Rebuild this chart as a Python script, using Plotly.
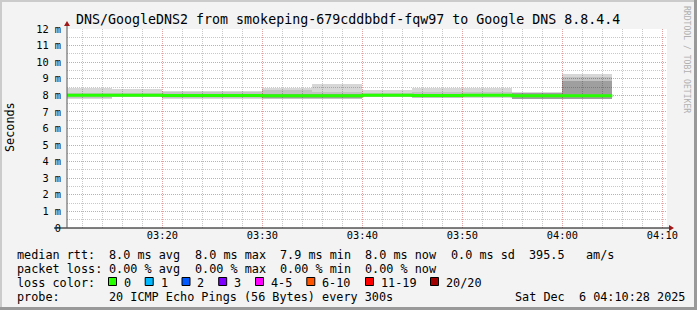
import plotly.graph_objects as go
import pandas as pd

# ---------------- data (ms) ----------------
block_start = ["2025-12-06 03:10", "2025-12-06 03:15", "2025-12-06 03:20", "2025-12-06 03:25",
               "2025-12-06 03:30", "2025-12-06 03:35", "2025-12-06 03:40", "2025-12-06 03:45",
               "2025-12-06 03:50", "2025-12-06 03:55", "2025-12-06 04:00"]
smoke_max = [8.45, 8.41, 8.26, 8.26, 8.43, 8.69, 8.32, 8.46, 8.46, 8.20, 9.29]
smoke_q90 = [8.17, 8.17, 8.18, 8.18, 8.32, 8.22, 8.17, 8.22, 8.22, 8.14, 9.08]
smoke_q75 = [8.06, 8.06, 8.06, 8.06, 8.06, 8.06, 8.06, 8.06, 8.06, 8.13, 8.89]
smoke_q25 = [7.94, 7.94, 7.94, 7.94, 7.82, 7.82, 7.94, 7.94, 7.94, 7.80, 7.80]
smoke_q10 = [7.86, 7.92, 7.84, 7.84, 7.80, 7.80, 7.88, 7.86, 7.88, 7.79, 7.79]
smoke_min = [7.79, 7.91, 7.78, 7.78, 7.78, 7.78, 7.87, 7.84, 7.86, 7.78, 7.78]
median_rtt = [8.00, 8.00, 7.99, 7.99, 7.98, 7.98, 8.00, 7.99, 8.00, 7.98, 7.98]
data_end = "2025-12-06 04:05"
step_ms = 300000

x_range = ["2025-12-06 03:10:28", "2025-12-06 04:10:28"]
y_tickvals = [0, 1, 2, 3, 4, 5, 6, 7, 8, 9, 10, 11, 12]
y_ticktext = ["0", "1 m", "2 m", "3 m", "4 m", "5 m", "6 m", "7 m", "8 m", "9 m", "10 m", "11 m", "12 m"]

title_text = "DNS/GoogleDNS2 from smokeping-679cddbbdf-fqw97 to Google DNS 8.8.4.4"
rtt_items = ["median rtt:", "8.0 ms avg", "8.0 ms max", "7.9 ms min", "8.0 ms now", "0.0 ms sd", "395.5", "am/s"]
loss_items = ["packet loss:", "0.00 % avg", "0.00 % max", "0.00 % min", "0.00 % now"]
loss_labels = ["0", "1", "2", "3", "4-5", "6-10", "11-19", "20/20"]
loss_colors = ["#26ff00", "#00b8ff", "#0059ff", "#7e00ff", "#ff00ff", "#ff5500", "#ff0000", "#a00000"]
probe_items = ["probe:", "20 ICMP Echo Pings (56 Bytes) every 300s", "Sat Dec  6 04:10:28 2025"]

# ---------------- geometry helpers ----------------
W, H = 697, 310
PL, PR, PT, PB = 67, 30, 29, 82
PW = W - PL - PR
PH = H - PT - PB
MONO = "DejaVu Sans Mono"


def px(x):
    return (x - PL) / PW


def py(y):
    return (H - PB - y) / PH


starts = pd.to_datetime(block_start)
centers = starts + pd.Timedelta(milliseconds=step_ms / 2)

fig = go.Figure()

layers = [
    (smoke_min, smoke_max, "rgba(0,0,0,0.155)"),
    (smoke_q10, smoke_q90, "rgba(0,0,0,0.09)"),
    (smoke_q25, smoke_q75, "rgba(0,0,0,0.18)"),
]
for lo, hi, col in layers:
    fig.add_trace(go.Bar(
        x=centers, y=[h - l for l, h in zip(lo, hi)], base=lo, width=step_ms,
        marker=dict(color=col, line=dict(width=0)), hoverinfo="skip", showlegend=False))

med_x = list(starts) + [pd.to_datetime(data_end)]
med_y = median_rtt + [median_rtt[-1]]
fig.add_trace(go.Scatter(x=med_x, y=med_y, mode="lines", line=dict(color=loss_colors[0], width=3, shape="hv"),
                         hoverinfo="skip", showlegend=False))

fig.update_layout(
    width=W, height=H, autosize=False,
    margin=dict(l=PL, r=PR, t=PT, b=PB, pad=0),
    paper_bgcolor="#f3f3f3", plot_bgcolor="#ffffff",
    barmode="overlay", bargap=0, showlegend=False, hovermode=False,
    font=dict(family=MONO, color="#000000"),
    xaxis=dict(
        type="date", range=x_range, showline=False, zeroline=False,
        tick0="2025-12-06 03:20", dtick=600000, tickformat="%H:%M",
        ticks="", tickfont=dict(family=MONO, size=10.3, color="#000"),
        showgrid=True, gridcolor="#e2a0a0", griddash="1px,1px", gridwidth=1,
        minor=dict(tick0="2025-12-06 03:10", dtick=120000, showgrid=True,
                   gridcolor="#c8c8c8", griddash="1px,1px", gridwidth=1),
        automargin=False, fixedrange=True,
    ),
    yaxis=dict(
        range=[0, 12], tickvals=y_tickvals, ticktext=y_ticktext, showline=False, zeroline=False,
        ticks="", tickfont=dict(family=MONO, size=10.3, color="#000"),
        showgrid=True, gridcolor="#e2a0a0", griddash="1px,1px", gridwidth=1,
        minor=dict(dtick=0.5, showgrid=True, gridcolor="#c8c8c8", griddash="1px,1px", gridwidth=1),
        automargin=False, fixedrange=True, ticklabelstandoff=5,
    ),
)

shapes = []
# frame border
shapes.append(dict(type="rect", xref="paper", yref="paper", x0=px(0), x1=px(W), y0=py(0), y1=py(2),
                   fillcolor="#cbcbcb", line=dict(width=0), layer="above"))
shapes.append(dict(type="rect", xref="paper", yref="paper", x0=px(0), x1=px(2), y0=py(0), y1=py(H),
                   fillcolor="#cbcbcb", line=dict(width=0), layer="above"))
shapes.append(dict(type="rect", xref="paper", yref="paper", x0=px(0), x1=px(W), y0=py(H - 3), y1=py(H),
                   fillcolor="#999999", line=dict(width=0), layer="above"))
shapes.append(dict(type="rect", xref="paper", yref="paper", x0=px(W - 3), x1=px(W), y0=py(0), y1=py(H),
                   fillcolor="#999999", line=dict(width=0), layer="above"))
# axes lines
shapes.append(dict(type="line", xref="paper", yref="paper", x0=px(54), x1=px(670), y0=0, y1=0,
                   line=dict(color="#000000", width=1), layer="above"))
shapes.append(dict(type="line", xref="paper", yref="paper", x0=0, x1=0, y0=py(228), y1=py(24),
                   line=dict(color="#555555", width=1), layer="above"))
# arrows
shapes.append(dict(type="path", xref="paper", yref="paper",
                   path=f"M {px(67)} {py(21)} L {px(64)} {py(26)} L {px(70)} {py(26)} Z",
                   fillcolor="#a01818", line=dict(width=0), layer="above"))
shapes.append(dict(type="path", xref="paper", yref="paper",
                   path=f"M {px(674)} {py(228)} L {px(669)} {py(225)} L {px(669)} {py(231)} Z",
                   fillcolor="#a01818", line=dict(width=0), layer="above"))
# loss colour boxes
box_x = [108.5, 145.2, 182, 218.7, 255.5, 306.8, 365.5, 430.5]
for bx, col in zip(box_x, loss_colors):
    shapes.append(dict(type="rect", xref="paper", yref="paper", x0=px(bx), x1=px(bx + 8),
                       y0=py(285.5), y1=py(277.5), fillcolor=col, line=dict(color="#000", width=1), layer="above"))
fig.update_layout(shapes=shapes)

anns = []


def ann(text, x, y, size=11.8, xanchor="left", color="#000", angle=0):
    anns.append(dict(text=text.replace(" ", "\u00a0"), x=px(x), y=py(y), xref="paper", yref="paper",
                     xanchor=xanchor, yanchor="middle", showarrow=False, borderpad=0, textangle=angle,
                     font=dict(family=MONO, size=size, color=color)))


ann(title_text, 347.5, 19.5, size=13.3, xanchor="center")
ann("Seconds", 10, 127, size=11.8, xanchor="center", angle=-90)
ann("RRDTOOL / TOBI OETIKER", 687, 59, size=8.1, xanchor="center", color="#b0b0b0", angle=90)

col_x = [15.5, 108.1, 193.5, 278.9, 364.4, 449.8, 528.1, 585.1]
row_y = [254.5, 268.5, 282.5, 296.5]
for t, x in zip(rtt_items, col_x):
    ann(t, x, row_y[0])
for t, x in zip(loss_items, col_x):
    ann(t, x, row_y[1])
ann("loss color:", 15.5, row_y[2])
for bx, lab in zip(box_x, loss_labels):
    ann(lab, bx + 14.3, row_y[2])
for t, x in zip(probe_items, [15.5, 108.1, 513.8]):
    ann(t, x, row_y[3])
fig.update_layout(annotations=anns)

fig.write_html("out.html", config={"displayModeBar": False, "staticPlot": True})
